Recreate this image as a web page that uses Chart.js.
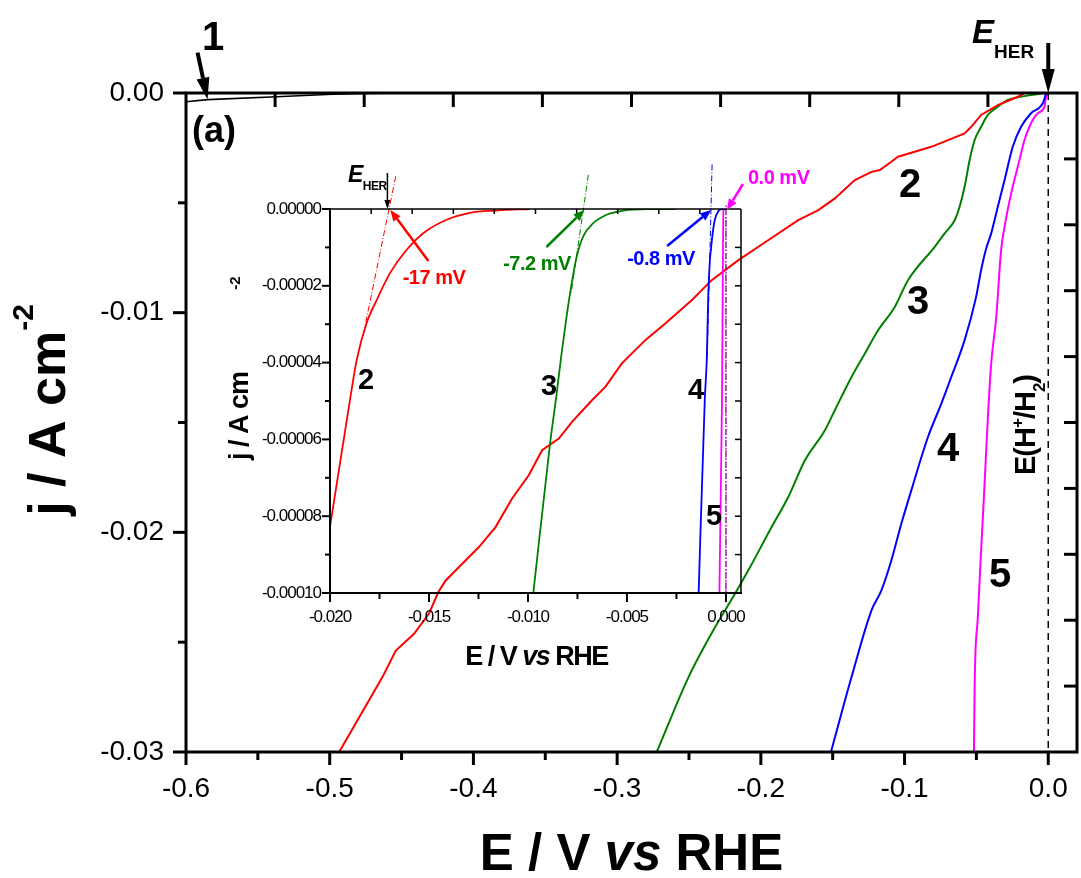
<!DOCTYPE html>
<html>
<head>
<meta charset="utf-8">
<script src="https://cdn.jsdelivr.net/npm/chart.js@4.4.1/dist/chart.umd.min.js"></script>
<style>
  html, body { margin: 0; padding: 0; background: #fff; }
  #wrap { position: relative; width: 1081px; height: 878px; overflow: hidden; }
  #main { position: absolute; left: 0; top: 0; }
  #inset { position: absolute; left: 200px; top: 140px; }
</style>
</head>
<body>
<div id="wrap">
  <canvas id="main" width="1081" height="878"></canvas>
  <canvas id="inset" width="620" height="550"></canvas>
</div>
<script>
// ---- polarisation curves, potential E (V vs RHE) and current density j (A cm^-2) ----
const curve1E = [-0.6, -0.585, -0.537, -0.498, -0.475, -0.45, 0];
const curve1J = [-0.0004, -0.0003, -0.00017, -0.00006, -0.00002, 0, 0];

const curve2E = [-0.4934, -0.4633, -0.454, -0.4413, -0.4309, -0.4244, -0.4193, -0.4078, -0.3962, -0.3846,
                 -0.3731, -0.3615, -0.3522, -0.3406, -0.3314, -0.3175, -0.3082, -0.2967, -0.2804, -0.2665,
                 -0.2481, -0.2342, -0.2156, -0.2017, -0.174, -0.16, -0.1485, -0.1346, -0.123, -0.1172,
                 -0.1092, -0.1045, -0.0814, -0.0582, -0.0536, -0.0467, -0.0351, -0.0212, -0.0177, -0.017];
const curve2J = [-0.03, -0.02659, -0.02538, -0.02462, -0.0237, -0.02272, -0.02219, -0.02143, -0.02067, -0.01976,
                 -0.01846, -0.0174, -0.01626, -0.01573, -0.01497, -0.01399, -0.01338, -0.01231, -0.01125, -0.01049,
                 -0.00943, -0.00852, -0.00761, -0.007, -0.00579, -0.00533, -0.0048, -0.00396, -0.00359, -0.00351,
                 -0.00313, -0.0029, -0.00245, -0.00184, -0.00154, -0.001, -0.00055, -0.00017, -0.00005, 0];

const curve3E = [-0.2724, -0.2503, -0.2318, -0.2179, -0.2087, -0.1925, -0.1809, -0.1693, -0.1554, -0.1485,
                 -0.1369, -0.1276, -0.1184, -0.1068, -0.0976, -0.079, -0.0721, -0.0651, -0.0617, -0.0582,
                 -0.0547, -0.0512, -0.0467, -0.042, -0.0351, -0.0281, -0.0212, -0.012, -0.0026];
const curve3J = [-0.03, -0.02659, -0.02431, -0.02279, -0.02173, -0.01976, -0.01839, -0.01672, -0.01535, -0.01444,
                 -0.01293, -0.01186, -0.0108, -0.00974, -0.00852, -0.007, -0.00639, -0.00579, -0.00518, -0.00427,
                 -0.00305, -0.00214, -0.00154, -0.001, -0.00062, -0.00032, -0.0002, -0.00009, 0];

const curve4E = [-0.1512, -0.1369, -0.123, -0.1161, -0.1092, -0.1022, -0.0953, -0.0837, -0.0744, -0.0675,
                 -0.0582, -0.0502, -0.0467, -0.0432, -0.0397, -0.0351, -0.0304, -0.0247, -0.0189, -0.012,
                 -0.0038, -0.0015];
const curve4J = [-0.03, -0.02659, -0.02355, -0.02264, -0.02128, -0.0196, -0.01809, -0.01566, -0.01414, -0.01293,
                 -0.01125, -0.00928, -0.00806, -0.00708, -0.00639, -0.00518, -0.00396, -0.00245, -0.00154, -0.00092,
                 -0.00047, 0];

const curve5E = [-0.0517, -0.0512, -0.049, -0.0467, -0.0443, -0.042, -0.0397, -0.0362, -0.0328, -0.0304,
                 -0.0258, -0.0212, -0.0165, -0.012, -0.0073, -0.0026, -0.0015, 0];
const curve5J = [-0.03, -0.02689, -0.02386, -0.02082, -0.01778, -0.01475, -0.01231, -0.01021, -0.00715, -0.00609,
                 -0.00457, -0.00336, -0.00214, -0.00138, -0.00092, -0.00062, -0.00017, 0];

// equilibrium potential E(H+/H2)
const eqLineE = [0, 0];
const eqLineJ = [0, -0.03];

// ---- onset region (inset) ----
const inset2E = [-0.02, -0.01899, -0.01865, -0.01815, -0.01764, -0.01697, -0.01613, -0.01529, -0.01411, -0.01293, -0.01158, -0.0099];
const inset2J = [-0.0000828, -0.0000497, -0.0000393, -0.0000297, -0.0000237, -0.0000167, -0.0000106, -0.0000063, -0.0000028, -0.000001, -0.0000004, 0];
const inset3E = [-0.00973, -0.00889, -0.00855, -0.0083, -0.00805, -0.00779, -0.00754, -0.00721, -0.0067, -0.00603, -0.00519, -0.004, -0.0025];
const inset3J = [-0.0001, -0.0000613, -0.000048, -0.0000375, -0.000028, -0.0000193, -0.0000124, -0.0000071, -0.0000037, -0.0000015, -0.0000004, 0, 0];
const inset4E = [-0.00138, -0.00107, -0.00097, -0.00089, -0.00081, -0.00076, -0.00067, -0.00056, -0.00039, -0.00022, 0];
const inset4J = [-0.0001, -0.0000497, -0.0000393, -0.0000219, -0.0000132, -0.0000106, -0.0000063, -0.0000028, -0.0000006, 0, 0];
const inset5E = [-0.00033, -0.0002, -0.00015, -0.00013, 0];
const inset5J = [-0.0001, -0.00005, -0.00001, 0, 0];

// tangents used to extrapolate the onset potential
const tangent2E = [-0.01668, -0.01835];
const tangent2J = [0.0000085, -0.0000335];
const tangent3E = [-0.00695, -0.00782];
const tangent3J = [0.0000089, -0.000022];
const tangent4E = [-0.0007, -0.00095];
const tangent4J = [0.0000116, -0.00004];
const tangent5E = [0, 0];
const tangent5J = [0.000001, -0.0001];
const insetZeroE = [0, 0];
const insetZeroJ = [0, -0.0001];

// onset potentials (V) and their labels
const onsetE = [-0.017, -0.0072, -0.0008, 0.0];
const onsetLabels = ['-17 mV', '-7.2 mV', '-0.8 mV', '0.0 mV'];

// ---- ticks ----
const mainXTicks = [-0.6, -0.5, -0.4, -0.3, -0.2, -0.1, 0.0];
const mainXMinor = [-0.55, -0.45, -0.35, -0.25, -0.15, -0.05];
const mainYTicks = [0, -0.01, -0.02, -0.03];
const mainYMinor = [-0.005, -0.015, -0.025];
const mainTopTicks = [-0.538, -0.476, -0.414, -0.352, -0.29, -0.228, -0.166, -0.104, -0.042];
const mainRightTicks = [-0.003, -0.006, -0.009, -0.012, -0.015, -0.018, -0.021, -0.024, -0.027];

const insetXTicks = [-0.02, -0.015, -0.01, -0.005, 0.0];
const insetXMinor = [-0.0175, -0.0125, -0.0075, -0.0025];
const insetYTicks = [0, -0.00002, -0.00004, -0.00006, -0.00008, -0.0001];
const insetYMinor = [-0.00001, -0.00003, -0.00005, -0.00007, -0.00009];
const insetTopTicks = [-0.01792, -0.01585, -0.01377, -0.0117, -0.00962, -0.00754, -0.00547, -0.00339, -0.00132];
const insetRightTicks = [-0.00001, -0.00002, -0.00003, -0.00004, -0.00005, -0.00006, -0.00007, -0.00008, -0.00009];

// ---- helpers ----
const FONT = "'Liberation Sans', Arial, Helvetica, sans-serif";
const RED = '#ff0000', GREEN = '#008000', BLUE = '#0000ff', MAGENTA = '#ff00ff';
const pts = (E, J) => E.map((e, i) => ({ x: e, y: J[i] }));
const fmt = d => v => (Math.abs(v) < 1e-12 ? 0 : v).toFixed(d);

function seg(ctx, x0, y0, x1, y1) {
  ctx.beginPath(); ctx.moveTo(x0, y0); ctx.lineTo(x1, y1); ctx.stroke();
}
// tick marks along one side of the plot frame; len sign gives the direction
function drawTicks(ctx, scale, values, side, len, a) {
  values.forEach(v => {
    const p = scale.getPixelForValue(v);
    if (side === 'bottom') seg(ctx, p, a.bottom, p, a.bottom + len);
    else if (side === 'top') seg(ctx, p, a.top, p, a.top + len);
    else if (side === 'left') seg(ctx, a.left, p, a.left + len, p);
    else seg(ctx, a.right, p, a.right + len, p);
  });
}
// mixed-style text (italic runs, super/subscripts), optionally rotated
function richText(ctx, parts, x, y, align, angle, spacing) {
  ctx.save();
  ctx.translate(x, y);
  if (angle) ctx.rotate(angle);
  ctx.textBaseline = 'alphabetic';
  ctx.textAlign = 'left';
  ctx.letterSpacing = spacing || '0px';
  let total = 0;
  parts.forEach(p => { ctx.font = p.f; p.w = ctx.measureText(p.t).width; total += p.w; });
  let cx = align === 'center' ? -total / 2 : align === 'right' ? -total : 0;
  parts.forEach(p => {
    ctx.font = p.f;
    ctx.fillStyle = p.c || '#000';
    ctx.fillText(p.t, cx, p.dy || 0);
    cx += p.w;
  });
  ctx.restore();
}
function arrow(ctx, x0, y0, x1, y1, width, headLen, headW, color) {
  const ang = Math.atan2(y1 - y0, x1 - x0);
  const bx = x1 - headLen * Math.cos(ang), by = y1 - headLen * Math.sin(ang);
  ctx.save();
  ctx.strokeStyle = color; ctx.fillStyle = color; ctx.lineWidth = width; ctx.lineCap = 'butt';
  seg(ctx, x0, y0, bx, by);
  ctx.beginPath();
  ctx.moveTo(x1, y1);
  ctx.lineTo(bx + headW / 2 * Math.sin(ang), by - headW / 2 * Math.cos(ang));
  ctx.lineTo(bx - headW / 2 * Math.sin(ang), by + headW / 2 * Math.cos(ang));
  ctx.closePath();
  ctx.fill();
  ctx.restore();
}
function curve(data, color, width, extra) {
  return Object.assign({
    data, borderColor: color, backgroundColor: color, borderWidth: width,
    showLine: true, pointRadius: 0, fill: false, tension: 0
  }, extra || {});
}
// fixed axis box sizes, without label overhang padding
const fixHeight = h => s => { s.height = h; s.paddingLeft = 0; s.paddingRight = 0; };
const fixWidth = w => s => { s.width = w; s.paddingTop = 0; s.paddingBottom = 0; };
const bold = s => `bold ${s}px ${FONT}`;
const boldItalic = s => `italic bold ${s}px ${FONT}`;

// ---- main chart ----
const mainDecor = {
  id: 'mainDecor',
  afterDatasetsDraw(chart) {
    const ctx = chart.ctx, a = chart.chartArea;
    const X = chart.scales.x, Y = chart.scales.y;
    ctx.save();
    ctx.strokeStyle = '#000';
    ctx.lineWidth = 3;
    drawTicks(ctx, X, mainXTicks, 'bottom', 13, a);
    drawTicks(ctx, X, mainXMinor, 'bottom', 8, a);
    drawTicks(ctx, Y, mainYTicks, 'left', -13, a);
    drawTicks(ctx, Y, mainYMinor, 'left', -8, a);
    drawTicks(ctx, X, mainTopTicks, 'top', 14, a);
    drawTicks(ctx, Y, mainRightTicks, 'right', -13, a);
    ctx.strokeRect(a.left, a.top, a.right - a.left, a.bottom - a.top);
    ctx.restore();

    // axis titles
    richText(ctx, [
      { t: 'E / V ', f: bold(51) },
      { t: 'vs', f: boldItalic(51) },
      { t: ' RHE', f: bold(51) }
    ], (a.left + a.right) / 2, 870, 'center');
    richText(ctx, [
      { t: 'j / A cm', f: bold(52) },
      { t: '-2', f: bold(30), dy: -32 }
    ], 65, 410, 'center', -Math.PI / 2);

    // curve labels
    ctx.save();
    ctx.fillStyle = '#000';
    ctx.textAlign = 'center';
    ctx.textBaseline = 'alphabetic';
    ctx.font = bold(40);
    ctx.fillText('1', 213, 50);
    ctx.fillText('2', 910, 197);
    ctx.fillText('3', 918, 314);
    ctx.fillText('4', 948, 461);
    ctx.fillText('5', 1000, 587);
    ctx.textAlign = 'left';
    ctx.font = bold(36);
    ctx.fillText('(a)', 192, 142);
    ctx.restore();

    // arrow to curve 1
    const t1x = X.getPixelForValue(-0.585), t1y = Y.getPixelForValue(-0.0003);
    arrow(ctx, t1x - 10, t1y - 47, t1x, t1y, 4, 22, 13, '#000');

    // E_HER marker at the equilibrium potential
    const hx = X.getPixelForValue(eqLineE[0]), hy = Y.getPixelForValue(0);
    arrow(ctx, hx, hy - 50, hx, hy, 4, 24, 13, '#000');
    richText(ctx, [
      { t: 'E', f: boldItalic(33) },
      { t: 'HER', f: bold(19), dy: 15 }
    ], 972, 43, 'left');

    // E(H+/H2) label beside the dashed line
    richText(ctx, [
      { t: 'E(H', f: bold(29) },
      { t: '+', f: bold(17), dy: -12 },
      { t: '/H', f: bold(29) },
      { t: '2', f: bold(17), dy: 10 },
      { t: ')', f: bold(29) }
    ], hx - 13, 425, 'center', -Math.PI / 2, '-1px');
  }
};

new Chart(document.getElementById('main'), {
  type: 'scatter',
  data: {
    datasets: [
      curve(pts(eqLineE, eqLineJ), '#000', 1.5, { borderDash: [7, 5] }),
      curve(pts(curve1E, curve1J), '#000', 1.6),
      curve(pts(curve2E, curve2J), RED, 2),
      curve(pts(curve3E, curve3J), GREEN, 2, { cubicInterpolationMode: 'monotone' }),
      curve(pts(curve4E, curve4J), BLUE, 2, { cubicInterpolationMode: 'monotone' }),
      curve(pts(curve5E, curve5J), MAGENTA, 2, { cubicInterpolationMode: 'monotone' })
    ]
  },
  options: {
    responsive: false,
    animation: false,
    devicePixelRatio: 1,
    events: [],
    layout: { autoPadding: false, padding: { left: 0, top: 93, right: 4, bottom: 0 } },
    plugins: { legend: { display: false }, tooltip: { enabled: false } },
    scales: {
      x: {
        type: 'linear', position: 'bottom', min: -0.6, max: 0.02,
        afterBuildTicks: s => { s.ticks = mainXTicks.map(v => ({ value: v })); },
        afterFit: fixHeight(126),
        grid: { display: false, drawTicks: false },
        border: { display: false },
        ticks: {
          color: '#000', padding: 20, maxRotation: 0, autoSkip: false,
          font: { family: FONT, size: 28 }, callback: fmt(1)
        }
      },
      y: {
        type: 'linear', position: 'left', min: -0.03, max: 0,
        afterBuildTicks: s => { s.ticks = mainYTicks.map(v => ({ value: v })); },
        afterFit: fixWidth(186),
        grid: { display: false, drawTicks: false },
        border: { display: false },
        ticks: {
          color: '#000', padding: 22, autoSkip: false,
          font: { family: FONT, size: 28 }, callback: fmt(2)
        }
      }
    }
  },
  plugins: [mainDecor]
});

// ---- inset chart (onset region) ----
const insetDecor = {
  id: 'insetDecor',
  beforeDraw(chart) { chart.ctx.letterSpacing = '-1px'; },
  beforeDatasetsDraw(chart) { chart.ctx.letterSpacing = '0px'; },
  afterDatasetsDraw(chart) {
    const ctx = chart.ctx, a = chart.chartArea;
    const X = chart.scales.x, Y = chart.scales.y;
    ctx.save();
    ctx.strokeStyle = '#000';
    ctx.lineWidth = 2;
    drawTicks(ctx, X, insetXTicks, 'bottom', 9, a);
    drawTicks(ctx, X, insetXMinor, 'bottom', 6, a);
    drawTicks(ctx, Y, insetYTicks, 'left', -8, a);
    drawTicks(ctx, Y, insetYMinor, 'left', -5, a);
    ctx.lineWidth = 1.5;
    drawTicks(ctx, X, insetTopTicks, 'top', 5, a);
    drawTicks(ctx, Y, insetRightTicks, 'right', -6, a);
    ctx.lineWidth = 1.5;
    seg(ctx, a.left, a.top, a.right, a.top);
    seg(ctx, a.right, a.top, a.right, a.bottom);
    ctx.lineWidth = 2;
    seg(ctx, a.left, a.top - 1, a.left, a.bottom + 1);
    seg(ctx, a.left - 1, a.bottom, a.right + 1, a.bottom);
    ctx.restore();

    // axis titles
    richText(ctx, [
      { t: 'E / V ', f: bold(27) },
      { t: 'vs', f: boldItalic(27) },
      { t: ' RHE', f: bold(27) }
    ], (a.left + a.right) / 2 + 1, 525, 'center', 0, '-1.5px');
    richText(ctx, [{ t: 'j / A cm', f: bold(27) }], 48, 320, 'left', -Math.PI / 2, '-1px');
    richText(ctx, [{ t: '-2', f: bold(15) }], 40, 143, 'center', -Math.PI / 2);

    // E_HER marker
    const ex = X.getPixelForValue(-0.0171), ey = Y.getPixelForValue(0);
    arrow(ctx, ex, ey - 36, ex, ey, 1.5, 9, 6, '#000');
    richText(ctx, [
      { t: 'E', f: boldItalic(23) },
      { t: 'HER', f: bold(12), dy: 8 }
    ], 148, 42, 'left', 0, '-0.5px');

    // onset potentials with arrows pointing at the tangent intercepts
    const colors = [RED, GREEN, BLUE, MAGENTA];
    const tails = [[39, 52], [-37, 38], [-43, 37], [17, -25]];
    const textPos = [[234, 144, 'center'], [337, 130, 'center'], [461, 125, 'center'], [548, 44, 'left']];
    onsetE.forEach((e, i) => {
      const px = X.getPixelForValue(e), py = Y.getPixelForValue(0);
      arrow(ctx, px + tails[i][0], py + tails[i][1], px + 1, py + 1, 2.5, 11, 9, colors[i]);
      richText(ctx, [{ t: onsetLabels[i], f: bold(20), c: colors[i] }],
               textPos[i][0], textPos[i][1], textPos[i][2], 0, '-0.5px');
    });

    // curve numbers
    ctx.save();
    ctx.fillStyle = '#000';
    ctx.textAlign = 'center';
    ctx.font = bold(29);
    ctx.fillText('2', 166, 249);
    ctx.fillText('3', 349, 255);
    ctx.fillText('4', 496, 259);
    ctx.fillText('5', 514, 385);
    ctx.restore();
  }
};

new Chart(document.getElementById('inset'), {
  type: 'scatter',
  data: {
    datasets: [
      curve(pts(tangent5E, tangent5J), MAGENTA, 1.2, { borderDash: [2, 2], clip: false }),
      curve(pts(insetZeroE, insetZeroJ), '#000', 1, { borderDash: [6, 2, 1, 2] }),
      curve(pts(tangent2E, tangent2J), RED, 1, { borderDash: [6, 2, 1, 2], clip: false }),
      curve(pts(tangent3E, tangent3J), GREEN, 1, { borderDash: [6, 2, 1, 2], clip: false }),
      curve(pts(tangent4E, tangent4J), BLUE, 1, { borderDash: [6, 2, 1, 2], clip: false }),
      curve(pts(inset2E, inset2J), RED, 1.8, { cubicInterpolationMode: 'monotone' }),
      curve(pts(inset3E, inset3J), GREEN, 1.8, { cubicInterpolationMode: 'monotone' }),
      curve(pts(inset4E, inset4J), BLUE, 1.8, { cubicInterpolationMode: 'monotone' }),
      curve(pts(inset5E, inset5J), MAGENTA, 1.8)
    ]
  },
  options: {
    responsive: false,
    animation: false,
    devicePixelRatio: 1,
    events: [],
    layout: { autoPadding: false, padding: { left: 0, top: 69, right: 79, bottom: 0 } },
    plugins: { legend: { display: false }, tooltip: { enabled: false } },
    scales: {
      x: {
        type: 'linear', position: 'bottom', min: -0.02, max: 0.00076,
        afterBuildTicks: s => { s.ticks = insetXTicks.map(v => ({ value: v })); },
        afterFit: fixHeight(97),
        grid: { display: false, drawTicks: false },
        border: { display: false },
        ticks: {
          color: '#000', padding: 14, maxRotation: 0, autoSkip: false,
          font: { family: FONT, size: 17 }, callback: fmt(3)
        }
      },
      y: {
        type: 'linear', position: 'left', min: -0.0001, max: 0,
        afterBuildTicks: s => { s.ticks = insetYTicks.map(v => ({ value: v })); },
        afterFit: fixWidth(130),
        grid: { display: false, drawTicks: false },
        border: { display: false },
        ticks: {
          color: '#000', padding: 9, autoSkip: false,
          font: { family: FONT, size: 17 }, callback: fmt(5)
        }
      }
    }
  },
  plugins: [insetDecor]
});
</script>
</body>
</html>
